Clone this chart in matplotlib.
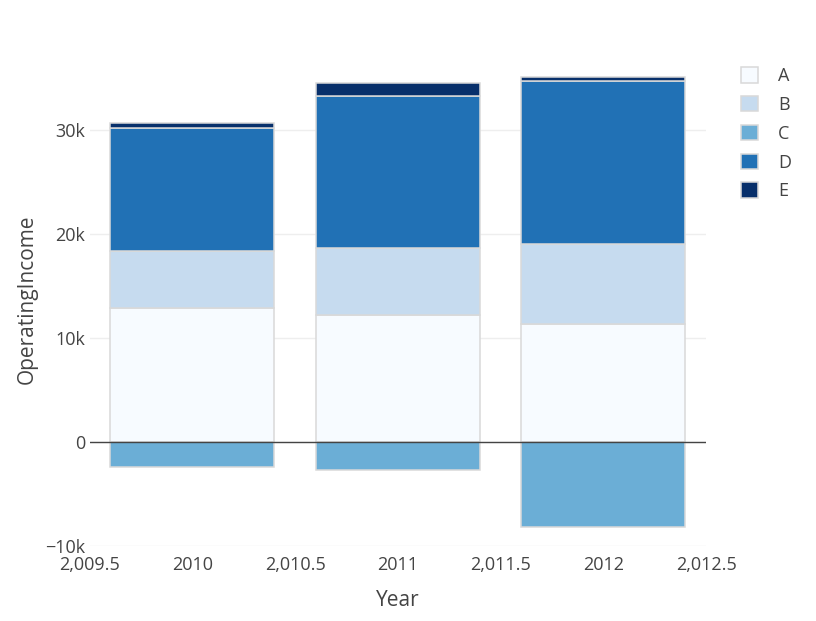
import numpy as np
import matplotlib
matplotlib.use('Agg')
import matplotlib.pyplot as plt
from matplotlib.patches import Patch

plt.rcParams['font.family'] = ['Open Sans', 'DejaVu Sans']

years = [2010, 2011, 2012]
series_names = ['A', 'B', 'C', 'D', 'E']
a_vals = [12870, 12200, 11360]
b_vals = [5540, 6440, 7660]
c_vals = [-2370, -2630, -8110]
d_vals = [11810, 14630, 15690]
e_vals = [480, 1220, 350]
colors = ['#f7fbff', '#c6dbef', '#6baed6', '#2171b5', '#08306b']

y_ticks = [-10000, 0, 10000, 20000, 30000]
y_tick_labels = ['\u221210k', '0', '10k', '20k', '30k']
x_ticks = [2009.5, 2010, 2010.5, 2011, 2011.5, 2012, 2012.5]
x_tick_labels = ['2,009.5', '2010', '2,010.5', '2011', '2,011.5', '2012', '2,012.5']

text_color = '#444444'
edge = '#d9d9d9'

W, H = 816, 621
fig = plt.figure(figsize=(W / 100, H / 100), dpi=100)
left, right, top, bottom = 89.5, 706.0, 52.0, 546.3
ax = fig.add_axes([left / W, 1 - bottom / H, (right - left) / W, (bottom - top) / H])

# relative stacking: positives stack up, negatives go down from zero
pos_base = np.zeros(len(years))
neg_base = np.zeros(len(years))
for name, vals, col in zip(series_names, [a_vals, b_vals, c_vals, d_vals, e_vals], colors):
    vals = np.array(vals, dtype=float)
    base = np.where(vals >= 0, pos_base, neg_base)
    ax.bar(years, vals, width=0.8, bottom=base, color=col,
           edgecolor=edge, linewidth=1.1, zorder=3)
    pos_base = pos_base + np.where(vals >= 0, vals, 0)
    neg_base = neg_base + np.where(vals < 0, vals, 0)

ax.set_xlim(2009.5, 2012.5)
ax.set_ylim(-10000, 37500)
ax.set_yticks(y_ticks)
ax.set_yticklabels(y_tick_labels)
ax.set_xticks(x_ticks)
ax.set_xticklabels(x_tick_labels)
ax.tick_params(length=0, labelsize=13, colors=text_color)
ax.tick_params(axis='y', pad=3)
ax.tick_params(axis='x', pad=7)
for s in ax.spines.values():
    s.set_visible(False)
ax.grid(axis='y', color='#eeeeee', linewidth=1, zorder=0)
ax.axhline(0, color='#444444', linewidth=1, zorder=4)

ax.set_xlabel('Year', fontsize=15, color=text_color)
ax.xaxis.set_label_coords(0.5, -(600 - bottom) / (bottom - top))
ax.xaxis.label.set_va('center')
ax.set_ylabel('OperatingIncome', fontsize=15, color=text_color)
ax.yaxis.set_label_coords((27 - left) / (right - left), 0.5)
ax.yaxis.label.set_va('center')

handles = [Patch(facecolor=c, edgecolor=edge, linewidth=1.1) for c in colors]
leg = ax.legend(handles, series_names, loc='upper left',
                bbox_to_anchor=(741 / W, 1 - 67 / H), bbox_transform=fig.transFigure,
                frameon=False, fontsize=13, handlelength=0.95, handleheight=0.95,
                handletextpad=1.1, labelspacing=0.6, borderpad=0, borderaxespad=0)
for t in leg.get_texts():
    t.set_color(text_color)

fig.savefig('out.png', dpi=100)
